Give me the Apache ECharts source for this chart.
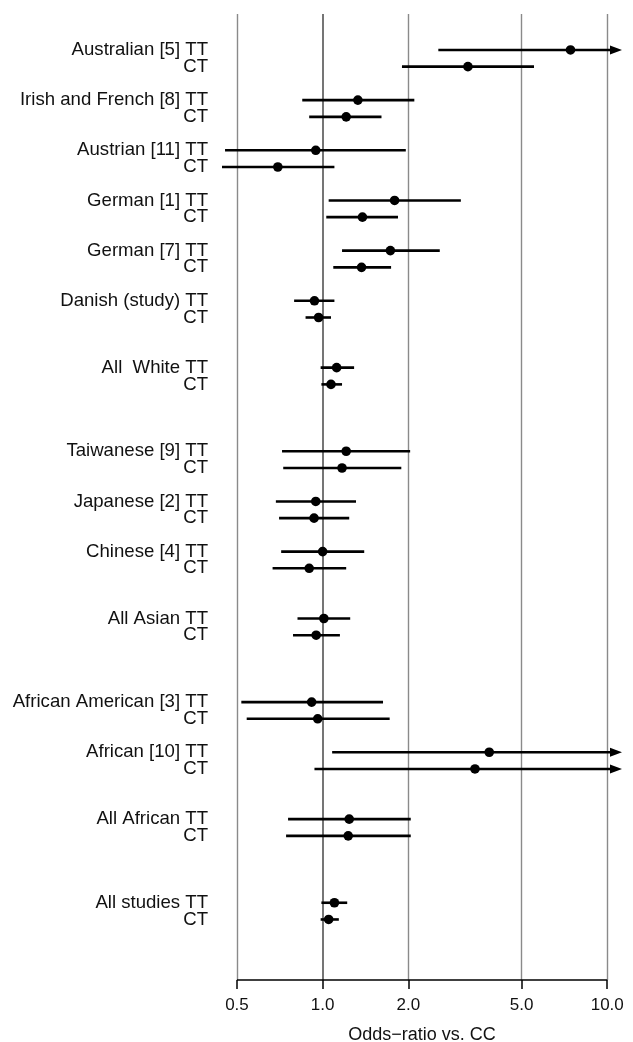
<!DOCTYPE html>
<html><head><meta charset="utf-8">
<script src="https://cdn.jsdelivr.net/npm/echarts@6/dist/echarts.min.js"></script>
<style>html,body{margin:0;padding:0;background:#fff}#c{width:633px;height:1042px}</style>
</head><body><div id="c"></div>
<script>
// ---- data (odds ratios vs. CC) ----
const studies = ['Australian [5]', 'Irish and French [8]', 'Austrian [11]', 'German [1]', 'German [7]', 'Danish (study)', 'All  White', 'Taiwanese [9]', 'Japanese [2]', 'Chinese [4]', 'All Asian', 'African American [3]', 'African [10]', 'All African', 'All studies'];
const studyPos = [0, 3, 6, 9, 12, 15, 19, 24, 27, 30, 34, 39, 42, 46, 51]; // TT row slot; CT is the next slot
const ttEst  = [7.43, 1.33, 0.946, 1.79, 1.73, 0.936, 1.12, 1.21, 0.946, 1.00, 1.01, 0.915, 3.85, 1.24, 1.10];
const ttLow  = [2.55, 0.848, 0.454, 1.05, 1.17, 0.794, 0.984, 0.72, 0.685, 0.715, 0.816, 0.518, 1.08, 0.756, 0.99];
const ttHigh = [14, 2.10, 1.96, 3.06, 2.58, 1.10, 1.29, 2.03, 1.31, 1.40, 1.25, 1.63, 16, 2.04, 1.22];
const ctEst  = [3.24, 1.21, 0.696, 1.38, 1.37, 0.968, 1.07, 1.17, 0.933, 0.897, 0.949, 0.961, 3.43, 1.23, 1.05];
const ctLow  = [1.90, 0.897, 0.442, 1.03, 1.09, 0.871, 0.99, 0.727, 0.703, 0.667, 0.787, 0.541, 0.936, 0.744, 0.984];
const ctHigh = [5.53, 1.61, 1.10, 1.84, 1.74, 1.07, 1.17, 1.89, 1.24, 1.21, 1.15, 1.72, 16, 2.04, 1.14];
const xTicks = [0.5, 1, 2, 5, 10];
const xTitle = 'Odds\u2212ratio vs. CC';

// ---- build ----
const X_MIN = 0.443, X_MAX = 11.27, Y_MIN = -2.15, Y_MAX = 55.62;
const FONT = 'Liberation Sans, Arial, Helvetica, sans-serif';
const rows = [];
const labelMap = {};
const ttPositions = [], ctPositions = [];
studies.forEach((s, i) => {
  const p = studyPos[i];
  rows.push([ttLow[i], ttHigh[i], ttEst[i], p]);
  rows.push([ctLow[i], ctHigh[i], ctEst[i], p + 1]);
  labelMap[p] = s + ' TT';
  labelMap[p + 1] = 'CT';
  ttPositions.push(p);
  ctPositions.push(p + 1);
});

function rowAxis(positions) {
  return {
    type: 'value', inverse: true, min: Y_MIN, max: Y_MAX, position: 'left', offset: 0,
    axisLine: {show: false, onZero: false}, axisTick: {show: false}, splitLine: {show: false},
    axisLabel: {customValues: positions, formatter: v => labelMap[v] || '', fontSize: 18.6, color: '#111', margin: 14, fontFamily: FONT, hideOverlap: false, showMinLabel: true, showMaxLabel: true}
  };
}

const chart = echarts.init(document.getElementById('c'), null, {renderer: 'canvas'});
chart.setOption({
  animation: false,
  backgroundColor: '#fff',
  grid: {left: 222, right: 11, top: 14, bottom: 62, containLabel: false, outerBoundsMode: 'none'},
  xAxis: {
    type: 'log', logBase: 10, min: X_MIN, max: X_MAX,
    axisLine: {show: false, onZero: false},
    splitLine: {show: false},
    minorTick: {show: false},
    axisTick: {show: true, customValues: xTicks, length: 9, lineStyle: {color: '#000', width: 1.5}},
    axisLabel: {customValues: xTicks, formatter: v => Number(v).toFixed(1), fontSize: 17, margin: 17, color: '#111', fontFamily: FONT, showMinLabel: true, showMaxLabel: true},
    name: xTitle, nameLocation: 'middle', nameGap: 46,
    nameTextStyle: {fontSize: 18, color: '#111', fontFamily: FONT}
  },
  yAxis: [rowAxis(ttPositions), rowAxis(ctPositions)],
  series: [
    {
      type: 'line', data: [], z: 1, silent: true, yAxisIndex: 0,
      markLine: {
        silent: true, symbol: 'none', animation: false,
        label: {show: false}, emphasis: {disabled: true},
        data: xTicks.map(v => ({xAxis: v, lineStyle: {color: v === 1 ? '#666' : '#8a8a8a', width: v === 1 ? 1.8 : 1.4, type: 'solid'}}))
          .concat([[{coord: [xTicks[0], Y_MAX], lineStyle: {color: '#000', width: 1.5, type: 'solid'}}, {coord: [xTicks[xTicks.length - 1], Y_MAX]}]])
      }
    },
    {
      type: 'custom', z: 5, silent: true, clip: false, yAxisIndex: 0,
      encode: {x: [0, 1, 2], y: 3},
      data: rows,
      renderItem: function (params, api) {
        const low = api.value(0), high = api.value(1), est = api.value(2), pos = api.value(3);
        const y = api.coord([1, pos])[1];
        const x0 = api.coord([Math.max(low, X_MIN), pos])[0];
        const trunc = high > X_MAX;
        const x1 = api.coord([Math.min(high, X_MAX), pos])[0];
        const xe = api.coord([est, pos])[0];
        const children = [];
        children.push({type: 'line', shape: {x1: x0, y1: y, x2: trunc ? x1 - 8 : x1, y2: y}, style: {stroke: '#000', lineWidth: 2.6}});
        if (trunc) {
          children.push({type: 'polygon', shape: {points: [[x1, y], [x1 - 12, y - 4.5], [x1 - 12, y + 4.5]]}, style: {fill: '#000'}});
        }
        children.push({type: 'circle', shape: {cx: xe, cy: y, r: 4.8}, style: {fill: '#000'}});
        return {type: 'group', children: children};
      }
    }
  ]
});
</script>
</body></html>
